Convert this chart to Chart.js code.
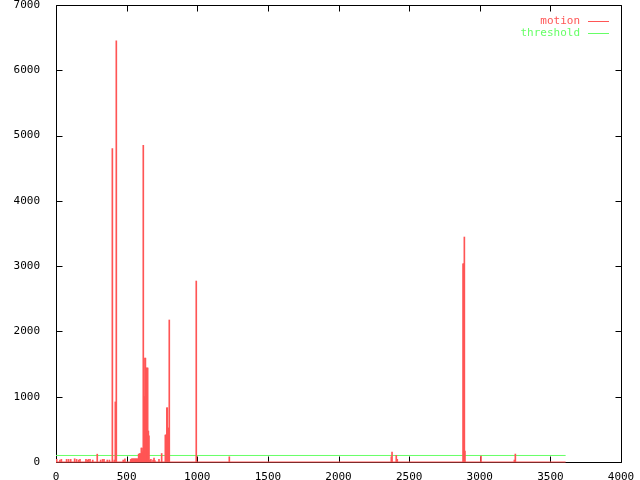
<!DOCTYPE html>
<html>
<head>
<meta charset="utf-8">
<script src="https://cdn.jsdelivr.net/npm/chart.js@4.4.0/dist/chart.umd.min.js"></script>
<style>
  html, body { margin: 0; padding: 0; background: #fff; }
  #wrap { width: 640px; height: 480px; }
</style>
</head>
<body>
<div id="wrap"><canvas id="myChart" width="640" height="480"></canvas></div>
<script>
// motion impulses (frame, value)
const motionX = [5, 28, 38, 75, 89, 104, 132, 146, 161, 170, 212, 222, 231, 241, 260, 292, 316, 330, 340, 363, 378,
    399, 413, 420, 427,
    476, 488, 529, 536, 543, 550, 557, 564, 571, 578, 585, 592, 599, 604, 609, 612, 618, 622, 625, 630, 633, 637, 641, 645, 649, 654, 658,
    665, 672, 687, 694, 700, 729, 748,
    774, 778, 781, 785, 788, 792, 795, 798, 802,
    993, 1227,
    2374, 2379, 2409, 2416,
    2882, 2886, 2891, 2895, 3009, 3245, 3252];
const motionY = [40, 30, 40, 40, 40, 40, 50, 40, 30, 40, 40, 30, 40, 40, 30, 120, 30, 40, 40, 30, 30,
    4800, 30, 920, 6450,
    30, 50, 40, 50, 50, 50, 50, 50, 50, 50, 120, 130, 130, 214, 214, 158, 4850, 1000, 1000, 1590, 1590, 1440, 1440, 1440, 1440, 475, 400,
    30, 40, 30, 60, 20, 40, 130,
    413, 413, 413, 830, 830, 520, 520, 40, 2175,
    2772, 80,
    80, 153, 102, 41,
    3037, 3037, 3446, 168, 92, 30, 122];
const lastFrame = 3608;
const threshold = 100;
const xTicks = [0, 500, 1000, 1500, 2000, 2500, 3000, 3500, 4000];
const yTicks = [0, 1000, 2000, 3000, 4000, 5000, 6000, 7000];

const red = 'rgb(255,85,85)';
const green = 'rgb(102,255,102)';
const font = { family: '"DejaVu Sans Mono", monospace', size: 11 };

const ctx = document.getElementById('myChart').getContext('2d');

// gnuplot style box with inward (mirrored) ticks
const frame = {
    id: 'frame',
    beforeDatasetsDraw(chart) {
        const c = chart.ctx;
        const a = chart.chartArea;
        const xs = chart.scales.x, ys = chart.scales.y;
        const L = Math.round(a.left) + 0.5, R = Math.round(a.right) + 0.5;
        const T = Math.round(a.top) + 0.5, B = Math.round(a.bottom) + 0.5;
        c.save();
        c.strokeStyle = '#000';
        c.lineWidth = 1;
        c.beginPath();
        c.rect(L, T, R - L, B - T);
        xTicks.forEach(v => {
            const p = Math.round(xs.getPixelForValue(v)) + 0.5;
            c.moveTo(p, B); c.lineTo(p, B - 6);
            c.moveTo(p, T); c.lineTo(p, T + 6);
        });
        yTicks.forEach(v => {
            const p = Math.round(ys.getPixelForValue(v)) + 0.5;
            c.moveTo(L, p); c.lineTo(L + 6, p);
            c.moveTo(R, p); c.lineTo(R - 6, p);
        });
        c.stroke();
        c.restore();
    },
    afterDatasetsDraw(chart) {
        // key: label right aligned, line sample after it
        const c = chart.ctx;
        const a = chart.chartArea;
        const items = chart.data.datasets.filter(d => d.keyRow !== undefined);
        c.save();
        c.font = '11px ' + font.family;
        c.textAlign = 'right';
        c.textBaseline = 'middle';
        items.forEach(d => {
            const y = Math.round(a.top + 16 + d.keyRow * 12) + 0.5;
            c.fillStyle = d.borderColor;
            c.fillText(d.label, a.right - 41, y);
            c.strokeStyle = d.borderColor;
            c.lineWidth = 1;
            c.beginPath();
            c.moveTo(a.right - 33, y);
            c.lineTo(a.right - 12, y);
            c.stroke();
        });
        c.restore();
    }
};

const motionData = motionX.map((x, i) => ({ x: x, y: motionY[i] }));

new Chart(ctx, {
    type: 'bar',
    data: {
        datasets: [
            {
                type: 'line',
                label: 'threshold',
                keyRow: 1,
                data: [{ x: 0, y: threshold }, { x: lastFrame, y: threshold }],
                borderColor: green,
                borderWidth: 1,
                pointRadius: 0,
                order: 3
            },
            {
                type: 'line',
                label: 'motion base',
                data: [{ x: 0, y: 0 }, { x: lastFrame, y: 0 }],
                borderColor: red,
                borderWidth: 1,
                pointRadius: 0,
                clip: false,
                order: 2
            },
            {
                label: 'motion',
                keyRow: 0,
                data: motionData,
                backgroundColor: red,
                borderColor: red,
                borderWidth: 0,
                barThickness: 1,
                order: 1
            }
        ]
    },
    options: {
        responsive: false,
        animation: false,
        events: [],
        layout: { padding: { top: 5, right: 19, left: 0, bottom: 0 } },
        plugins: { legend: { display: false }, tooltip: { enabled: false } },
        scales: {
            x: {
                type: 'linear',
                offset: false,
                min: 0, max: 4000,
                afterFit: s => { s.height = 18; s.paddingLeft = 0; s.paddingRight = 0; },
                afterBuildTicks: s => { s.ticks = xTicks.map(v => ({ value: v })); },
                grid: { display: false, offset: false },
                border: { display: false },
                ticks: { color: '#000', font: font, padding: 1, maxRotation: 0, autoSkip: false,
                    callback: v => String(v) }
            },
            y: {
                min: 0, max: 7000,
                afterFit: s => { s.width = 56; s.paddingTop = 0; s.paddingBottom = 0; },
                afterBuildTicks: s => { s.ticks = yTicks.map(v => ({ value: v })); },
                grid: { display: false },
                border: { display: false },
                ticks: { color: '#000', font: font, padding: 8, callback: v => String(v) }
            }
        }
    },
    plugins: [frame]
});
</script>
</body>
</html>
